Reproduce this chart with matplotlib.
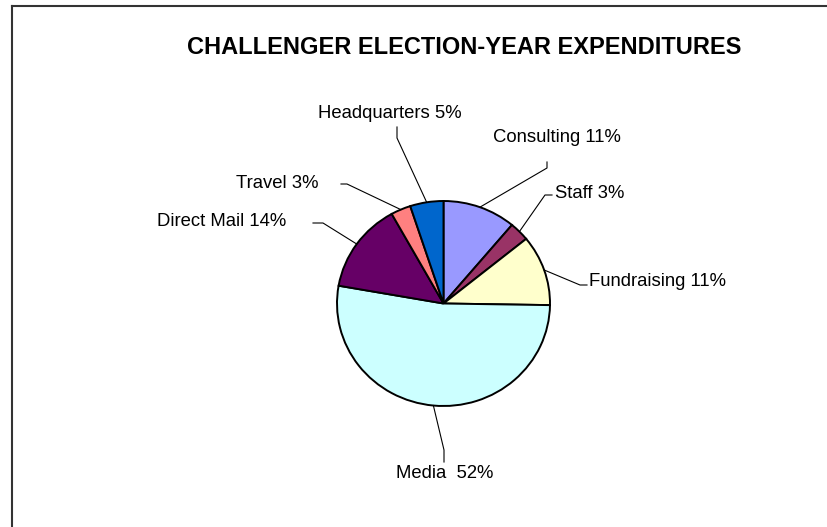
import matplotlib
matplotlib.use('Agg')
matplotlib.rcParams['font.family'] = ['Liberation Sans', 'DejaVu Sans']
import matplotlib.pyplot as plt
from matplotlib.lines import Line2D
import numpy as np

# expenditure shares (percent)
categories = ['Consulting', 'Staff', 'Fundraising', 'Media ', 'Direct Mail', 'Travel', 'Headquarters']
shares = [11, 3, 11, 52, 14, 3, 5]
colors = ['#9999FF', '#993366', '#FFFFCC', '#CCFFFF', '#660066', '#FF8080', '#0066CC']

W, H = 827, 527
# pie centre and radii in pixels (slightly wider than tall)
CX, CY, RX, RY = 443.5, 303.5, 106.5, 102.5

# label anchor (px), alignment, and leader elbow points (px)
label_layout = {
    'Consulting':   dict(xy=(493, 138), ha='left', va='center', elbow=[(547, 162), (547, 168)]),
    'Staff':        dict(xy=(555, 193), ha='left', va='center', elbow=[(552, 195), (545, 195)]),
    'Fundraising':  dict(xy=(589, 282), ha='left', va='center', elbow=[(587, 285), (580, 285)]),
    'Media ':       dict(xy=(445, 474), ha='center', va='center', elbow=[(444, 462), (444, 450)]),
    'Direct Mail':  dict(xy=(286, 222), ha='right', va='center', elbow=[(313, 223), (323, 223)]),
    'Travel':       dict(xy=(319, 183), ha='right', va='center', elbow=[(341, 184), (347, 184)]),
    'Headquarters': dict(xy=(390, 114), ha='center', va='center', elbow=[(397, 127), (397, 138)]),
}


def to_data(px, py):
    return (px - CX) / RX, (CY - py) / RY


fig = plt.figure(figsize=(W / 100, H / 100), dpi=100)
ax = fig.add_axes([0, 0, 1, 1])
wedges, _ = ax.pie(shares, colors=colors, startangle=90, counterclock=False,
                   wedgeprops=dict(edgecolor='black', linewidth=1.4))
ax.set_xlim(-CX / RX, (W - CX) / RX)
ax.set_ylim(-(H - CY) / RY, CY / RY)
ax.set_aspect('auto')
ax.axis('off')

for cat, pct, w in zip(categories, shares, wedges):
    lay = label_layout[cat]
    mid = np.deg2rad((w.theta1 + w.theta2) / 2)
    pts = [to_data(*p) for p in lay['elbow']] + [(np.cos(mid), np.sin(mid))]
    xs, ys = zip(*pts)
    ax.add_line(Line2D(xs, ys, color='black', linewidth=0.8))
    tx, ty = to_data(*lay['xy'])
    ax.text(tx, ty, f'{cat} {pct}%', fontsize=13.3, ha=lay['ha'], va=lay['va'], color='black')

tx, ty = to_data(464, 47)
ax.text(tx, ty, 'CHALLENGER ELECTION-YEAR EXPENDITURES', fontsize=17, fontweight='bold',
        ha='center', va='center', color='black')

# chart frame: only the top and left edges show
fig.add_artist(Line2D([12 / W, 1], [1 - 6 / H, 1 - 6 / H], color='#333333', linewidth=1.5))
fig.add_artist(Line2D([12 / W, 12 / W], [0, 1 - 6 / H], color='#333333', linewidth=1.5))

fig.savefig('out.png', dpi=100, facecolor='white')
